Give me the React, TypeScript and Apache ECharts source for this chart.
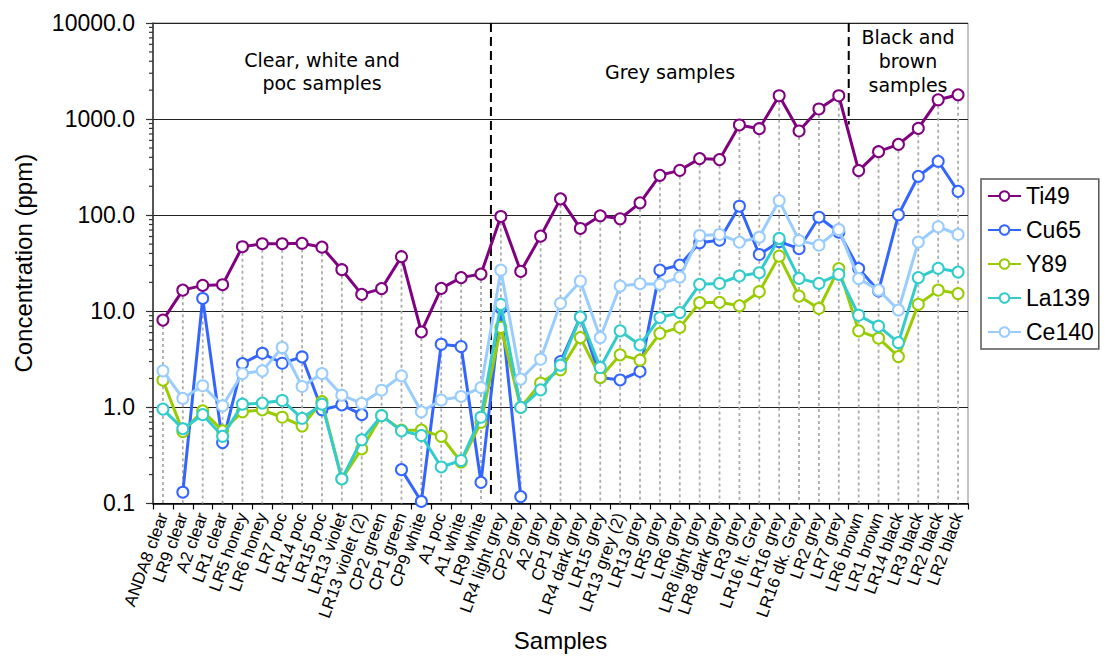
import React, { useEffect, useRef } from "react";
import * as echarts from "echarts";

const categories = [
  "ANDA8 clear", "LR9 clear", "A2 clear", "LR1 clear", "LR5 honey", "LR6 honey", "LR7 poc", "LR14 poc",
  "LR15 poc", "LR13 violet", "LR13 violet (2)", "CP2 green", "CP1 green", "CP9 white", "A1 poc", "A1 white",
  "LR9 white", "LR4 light grey", "CP2 grey", "A2 grey", "CP1 grey", "LR4 dark grey", "LR15 grey",
  "LR13 grey (2)", "LR13 grey", "LR5 grey", "LR6 grey", "LR8 light grey", "LR8 dark grey", "LR3 grey",
  "LR16 lt. Grey", "LR16 grey", "LR16 dk. Grey", "LR2 grey", "LR7 grey", "LR6 brown", "LR1 brown",
  "LR14 black", "LR3 black", "LR2 black", "LR2 black",
];

const ti49 = [8.1, 16.6, 18.6, 18.9, 47, 50.5, 50.5, 51, 46.5, 27.1, 15, 17.2, 37, 6.1, 17.3, 22.4, 24.4,
  97, 26, 60.5, 148, 72.8, 98.6, 91.8, 134.6, 260, 293, 388, 379,
  869, 795, 1750, 752, 1274, 1750, 291, 458, 546, 801, 1589, 1791];
const cu65 = [null, 0.131, 13.6, 0.43, 2.86, 3.66, 2.88, 3.35, 0.945, 1.06, 0.84, null, 0.225, 0.105, 4.54, 4.3, 0.166,
  10.8, 0.118, null, 3.0, 8.7, 2.05, 1.93, 2.37, 26.8, 30.3, 51.6, 55,
  124, 39, 53, 44.8, 95.3, 66.6, 27.8, 16.3, 101, 254, 364, 177];
const y89 = [1.92, 0.56, 0.92, 0.57, 0.9, 0.94, 0.79, 0.64, 1.15, 0.18, 0.37, 0.82, 0.58, 0.58, 0.5, 0.27, 0.7,
  6.8, 1.0, 1.79, 2.46, 5.33, 2.05, 3.52, 3.1, 5.9, 6.8, 12.3, 12.4,
  11.4, 16, 37.5, 14.4, 10.7, 27.8, 6.25, 5.25, 3.38, 11.8, 16.6, 15.3];
const la139 = [0.96, 0.6, 0.84, 0.5, 1.08, 1.11, 1.18, 0.77, 1.08, 0.18, 0.46, 0.82, 0.57, 0.51, 0.24, 0.28, 0.79,
  11.8, 1.0, 1.52, 2.75, 8.7, 2.6, 6.25, 4.47, 8.6, 9.7, 19.1, 19.5,
  23.3, 25.2, 57.3, 22, 19.5, 24.2, 9.1, 7.0, 4.73, 22.4, 28, 25.6];
const ce140 = [2.4, 1.24, 1.68, 1.04, 2.25, 2.4, 4.2, 1.65, 2.25, 1.34, 1.1, 1.51, 2.13, 0.9, 1.19, 1.3, 1.61,
  26.8, 1.97, 3.17, 12.1, 20.6, 5.33, 18.3, 19.4, 19.1, 22.7, 61.5, 63,
  52.5, 59, 142, 54.6, 48.8, 71, 21.9, 16.6, 10.3, 52.5, 75.8, 63];

const seriesNames = ["Ti49", "Cu65", "Y89", "La139", "Ce140"];
const seriesColors = ["#800080", "#3366FF", "#99CC00", "#33CCCC", "#99CCFF"];

const yMin = 0.1;
const yMax = 10000;

// group separators: [index of last category in group, top value, bottom value]
const separators = [
  [16, 10000, 0.123],
  [34, 10000, 880],
];
const groupLabels = ["Clear, white and\npoc samples", "Grey samples", "Black and\nbrown\nsamples"];

const FONT = "'Liberation Sans', Arial, sans-serif";
const ANNOT_FONT = "'DejaVu Sans', Verdana, sans-serif";

export default function App() {
  const ref = useRef<HTMLDivElement>(null);
  useEffect(() => {
    const chart = echarts.init(ref.current!, null, { renderer: "svg" });
    const allSeries = [ti49, cu65, y89, la139, ce140];
    const maxima = categories.map((_, i) =>
      [i, Math.max(...allSeries.map((s) => (s[i] == null ? 0 : (s[i] as number))))]
    );
    const minorVals: number[][] = [];
    for (let e = -1; e < 4; e++) for (let k = 2; k <= 9; k++) minorVals.push([0, k * Math.pow(10, e)]);

    const lineSeries = allSeries.map((d, idx) => ({
      type: "line",
      name: seriesNames[idx],
      data: d.map((v) => (v == null ? "-" : v)),
      connectNulls: false,
      color: seriesColors[idx],
      symbol: "emptyCircle",
      symbolSize: 11,
      lineStyle: { width: 3, color: seriesColors[idx] },
      itemStyle: { color: seriesColors[idx], borderWidth: 2 },
      z: 5 + idx,
    }));

    const annot = (text: string, x: number, y: number, lh: number) => ({
      type: "text",
      x,
      y,
      style: {
        text,
        font: `19px ${ANNOT_FONT}`,
        fill: "#000",
        align: "center",
        verticalAlign: "middle",
        lineHeight: lh,
      },
    });

    chart.setOption({
      animation: false,
      grid: {
        left: 153,
        right: 141,
        top: 23,
        bottom: 152,
        show: true,
        borderColor: "#888",
        borderWidth: 1,
      },
      legend: {
        orient: "vertical",
        left: 981,
        top: 179,
        data: seriesNames,
        itemWidth: 33,
        itemHeight: 12,
        itemGap: 10,
        padding: [5, 5, 5, 6],
        borderColor: "#555",
        borderWidth: 1.5,
        textStyle: { fontSize: 23, fontFamily: FONT, color: "#000", lineHeight: 24 },
      },
      xAxis: {
        type: "category",
        data: categories,
        name: "Samples",
        nameLocation: "middle",
        nameGap: 122,
        nameTextStyle: { fontSize: 24, fontFamily: FONT, color: "#000" },
        axisLine: { lineStyle: { color: "#000", width: 1.5 } },
        axisTick: { show: true, length: 6, interval: 0, lineStyle: { color: "#000", width: 1.2 } },
        axisLabel: {
          interval: 0,
          rotate: 70,
          fontSize: 17,
          fontFamily: FONT,
          color: "#000",
          margin: 10,
        },
        splitLine: { show: false },
      },
      yAxis: {
        type: "log",
        logBase: 10,
        min: yMin,
        max: yMax,
        name: "Concentration (ppm)",
        nameLocation: "middle",
        nameGap: 118,
        nameTextStyle: { fontSize: 24, fontFamily: FONT, color: "#000" },
        axisLine: { show: true, lineStyle: { color: "#333", width: 1.5 } },
        axisTick: { show: true, length: 7, inside: false, lineStyle: { color: "#333", width: 1.2 } },
        axisLabel: {
          fontSize: 23,
          fontFamily: FONT,
          color: "#000",
          margin: 18,
          formatter: (v: number) => Number(v).toFixed(1),
        },
        splitLine: { show: true, lineStyle: { color: "#222", width: 1 } },
      },
      series: [
        {
          type: "custom",
          silent: true,
          data: maxima,
          z: 1,
          renderItem: (params: any, api: any) => {
            const p1 = api.coord([api.value(0), api.value(1)]);
            const p2 = api.coord([api.value(0), yMin]);
            return {
              type: "line",
              shape: { x1: p1[0], y1: p1[1], x2: p2[0], y2: p2[1] },
              style: { stroke: "#ababab", lineWidth: 1.8, lineDash: [3, 3] },
            };
          },
        },
        {
          type: "custom",
          silent: true,
          data: minorVals,
          z: 2,
          renderItem: (params: any, api: any) => {
            const p = api.coord([0, api.value(1)]);
            const x0 = params.coordSys.x;
            return {
              type: "line",
              shape: { x1: x0 - 4, y1: p[1], x2: x0, y2: p[1] },
              style: { stroke: "#333", lineWidth: 1.2 },
            };
          },
        },
        {
          type: "custom",
          silent: true,
          data: separators,
          z: 3,
          renderItem: (params: any, api: any) => {
            const i = api.value(0);
            const a = api.coord([i, api.value(1)]);
            const b = api.coord([i + 1, api.value(2)]);
            const a2 = api.coord([i + 1, api.value(1)]);
            const x = (a[0] + a2[0]) / 2;
            return {
              type: "line",
              shape: { x1: x, y1: a[1], x2: x, y2: b[1] },
              style: { stroke: "#000", lineWidth: 2, lineDash: [9, 5] },
            };
          },
        },
        ...lineSeries,
      ],
      graphic: [
        annot(groupLabels[0], 322, 71.5, 23),
        annot(groupLabels[1], 670, 72, 23),
        annot(groupLabels[2], 908, 61, 24),
      ],
    });
    return () => chart.dispose();
  }, []);
  return <div ref={ref} style={{ position: "absolute", left: 0, top: 0, width: 1109, height: 657 }} />;
}
